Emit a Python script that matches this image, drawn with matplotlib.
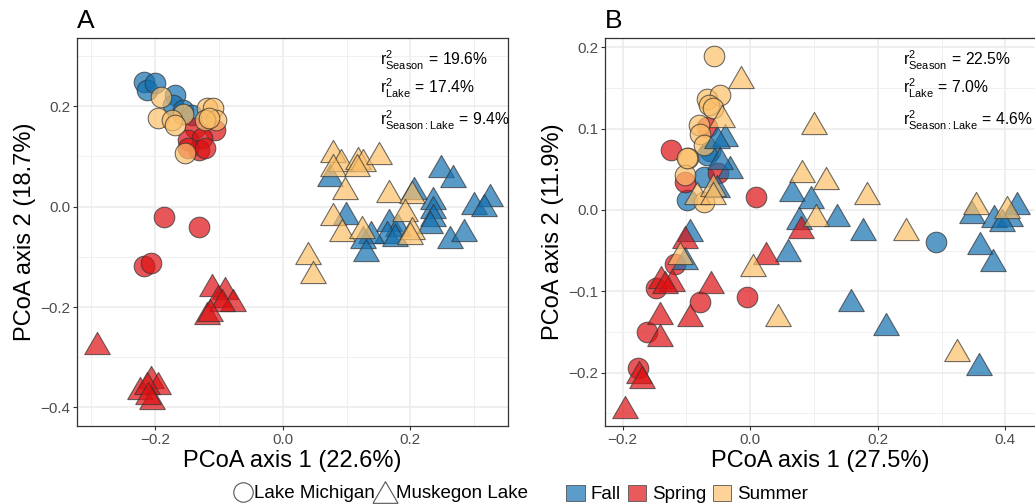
import numpy as np
import matplotlib.pyplot as plt
from matplotlib.lines import Line2D
from matplotlib.patches import Patch
from matplotlib.ticker import MultipleLocator

plt.rcParams['font.family'] = ['Liberation Sans', 'DejaVu Sans']
plt.rcParams['mathtext.fontset'] = 'custom'
plt.rcParams['mathtext.rm'] = 'Liberation Sans'
plt.rcParams['mathtext.it'] = 'Liberation Sans:italic'

seasons = ['Fall', 'Spring', 'Summer']
colors = {'Fall': '#1370b0', 'Spring': '#de1013', 'Summer': '#fbbf69'}
key_colors = {'Fall': '#5b9ccb', 'Spring': '#e85a5b', 'Summer': '#fdd39a'}

# ---- panel A (x, y) ----
a_mich_fall = [(-0.217, 0.249), (-0.213, 0.233), (-0.201, 0.246), (-0.169, 0.223),
               (-0.172, 0.203), (-0.156, 0.193), (-0.143, 0.183)]
a_mich_summer = [(-0.191, 0.219), (-0.156, 0.184), (-0.119, 0.196), (-0.110, 0.196),
                 (-0.104, 0.173), (-0.122, 0.173), (-0.195, 0.176), (-0.174, 0.173),
                 (-0.169, 0.163), (-0.153, 0.106), (-0.116, 0.177)]
a_mich_spring = [(-0.138, 0.156), (-0.106, 0.153), (-0.148, 0.133), (-0.127, 0.136),
                 (-0.132, 0.113), (-0.148, 0.116), (-0.122, 0.117),
                 (-0.186, -0.021), (-0.131, -0.040), (-0.217, -0.118), (-0.207, -0.113)]
a_musk_spring = [(-0.292, -0.271), (-0.111, -0.156), (-0.091, -0.163), (-0.101, -0.179),
                 (-0.078, -0.186), (-0.096, -0.186), (-0.119, -0.212), (-0.114, -0.206),
                 (-0.207, -0.339), (-0.195, -0.352), (-0.224, -0.362), (-0.213, -0.352),
                 (-0.205, -0.382), (-0.211, -0.372)]
a_musk_fall = [(0.074, 0.063), (0.248, 0.080), (0.267, 0.062), (0.206, 0.037),
               (0.235, 0.017), (0.236, 0.000), (0.236, -0.017), (0.231, -0.030),
               (0.299, 0.007), (0.325, 0.023), (0.316, 0.003), (0.262, -0.060),
               (0.284, -0.046), (0.099, -0.013), (0.166, -0.027), (0.181, -0.036),
               (0.163, -0.050), (0.176, -0.056), (0.139, -0.050), (0.126, -0.060),
               (0.130, -0.086)]
a_musk_summer = [(0.078, 0.110), (0.091, 0.093), (0.079, 0.083), (0.118, 0.096),
                 (0.125, 0.093), (0.150, 0.106), (0.116, 0.083), (0.097, 0.038),
                 (0.167, 0.031), (0.202, 0.030), (0.192, -0.007), (0.078, -0.015),
                 (0.093, -0.046), (0.124, -0.040), (0.202, -0.043), (0.200, -0.053),
                 (0.039, -0.092), (0.048, -0.130)]

# ---- panel B (x, y) ----
b_mich_fall = [(-0.063, 0.072), (-0.068, 0.068), (-0.073, 0.041), (-0.099, 0.012),
               (0.292, -0.040)]
b_mich_spring = [(-0.124, 0.074), (-0.068, 0.102), (-0.102, 0.035), (-0.050, 0.045),
                 (0.009, 0.016), (-0.118, -0.066), (-0.147, -0.096), (-0.078, -0.113),
                 (-0.162, -0.150), (-0.175, -0.195), (-0.005, -0.107)]
b_mich_summer = [(-0.056, 0.189), (-0.068, 0.137), (-0.047, 0.141), (-0.064, 0.129),
                 (-0.058, 0.125), (-0.080, 0.105), (-0.078, 0.094), (-0.073, 0.080),
                 (-0.097, 0.064), (-0.102, 0.043), (-0.099, 0.064), (-0.073, 0.010)]
b_musk_fall = [(-0.039, 0.092), (-0.052, 0.090), (-0.031, 0.053), (-0.047, 0.064),
               (-0.052, 0.029), (-0.094, -0.025), (-0.102, -0.059), (0.065, 0.025),
               (0.095, 0.016), (0.076, -0.010), (0.136, -0.006), (0.177, -0.023),
               (0.060, -0.049), (0.158, -0.111), (0.213, -0.140), (0.358, -0.189),
               (0.348, -0.002), (0.382, -0.008), (0.419, 0.008), (0.407, -0.006),
               (0.395, -0.012), (0.361, -0.041), (0.381, -0.061)]
b_musk_spring = [(-0.102, -0.033), (-0.139, -0.082), (-0.123, -0.086), (-0.133, -0.088),
                 (-0.061, -0.088), (-0.094, -0.129), (-0.141, -0.127), (-0.142, -0.154),
                 (-0.174, -0.199), (-0.170, -0.205), (-0.196, -0.242), (0.025, -0.053),
                 (0.080, -0.021)]
b_musk_summer = [(-0.014, 0.164), (-0.044, 0.115), (-0.084, 0.021), (-0.058, 0.031),
                 (-0.058, 0.021), (-0.110, -0.053), (0.005, -0.068), (0.100, 0.107),
                 (0.082, 0.048), (0.119, 0.039), (0.183, 0.021), (0.104, -0.006),
                 (0.244, -0.023), (0.044, -0.129), (0.324, -0.172), (0.354, 0.008),
                 (0.403, 0.004)]

panels = [
    dict(label='A', xlab='PCoA axis 1 (22.6%)', ylab='PCoA axis 2 (18.7%)',
         xlim=(-0.3227, 0.353), ylim=(-0.437, 0.336),
         xt=[-0.2, 0.0, 0.2], yt=[-0.4, -0.2, 0.0, 0.2],
         r2=['19.6', '17.4', '9.4'], r2x=0.703,
         mich={'Fall': a_mich_fall, 'Spring': a_mich_spring, 'Summer': a_mich_summer},
         musk={'Fall': a_musk_fall, 'Spring': a_musk_spring, 'Summer': a_musk_summer},
         minor_x=0.1, minor_y=0.1),
    dict(label='B', xlab='PCoA axis 1 (27.5%)', ylab='PCoA axis 2 (11.9%)',
         xlim=(-0.2275, 0.448), ylim=(-0.2657, 0.2115),
         xt=[-0.2, 0.0, 0.2, 0.4], yt=[-0.2, -0.1, 0.0, 0.1, 0.2],
         r2=['22.5', '7.0', '4.6'], r2x=0.692,
         mich={'Fall': b_mich_fall, 'Spring': b_mich_spring, 'Summer': b_mich_summer},
         musk={'Fall': b_musk_fall, 'Spring': b_musk_spring, 'Summer': b_musk_summer},
         minor_x=0.1, minor_y=0.05),
]

tri = [(-1, -0.866), (1, -0.866), (0, 0.866), (-1, -0.866)]

fig = plt.figure(figsize=(10.35, 5.04), dpi=100)
lefts = [0.0744, 0.5845]

for p, left in zip(panels, lefts):
    ax = fig.add_axes([left, 0.1548, 0.4164, 0.7698])
    ax.set_xlim(p['xlim'])
    ax.set_ylim(p['ylim'])
    ax.set_xticks(p['xt'])
    ax.set_yticks(p['yt'])
    ax.xaxis.set_minor_locator(MultipleLocator(p['minor_x']))
    ax.yaxis.set_minor_locator(MultipleLocator(p['minor_y']))
    ax.grid(which='major', color='#ebebeb', linewidth=1.1, zorder=0)
    ax.grid(which='minor', color='#f0f0f0', linewidth=0.7, zorder=0)
    ax.set_axisbelow(True)
    for s in ax.spines.values():
        s.set_color('#333333')
        s.set_linewidth(0.9)
    ax.tick_params(which='major', length=3, width=0.8, color='#333333',
                   labelsize=11, labelcolor='#4d4d4d', pad=2)
    ax.tick_params(which='minor', length=0)
    ax.xaxis.set_major_formatter(plt.FuncFormatter(lambda v, _: f'{v:.1f}'.replace('-', '\u2212')))
    ax.yaxis.set_major_formatter(plt.FuncFormatter(lambda v, _: f'{v:.1f}'.replace('-', '\u2212')))

    for lake, marker, size in [('mich', 'o', 220), ('musk', tri, 340)]:
        for s in seasons:
            pts = np.array(p[lake][s])
            ax.scatter(pts[:, 0], pts[:, 1], s=size, marker=marker,
                       facecolor=colors[s], alpha=0.7, edgecolor='#333333',
                       linewidth=0.8, zorder=3)

    ax.set_xlabel(p['xlab'], fontsize=17, labelpad=2)
    ax.set_ylabel(p['ylab'], fontsize=17, labelpad=3)
    ax.text(0.0, 1.012, p['label'], transform=ax.transAxes, fontsize=19,
            ha='left', va='bottom')
    names = ['Season', 'Lake', 'Season{:}Lake']
    for i, (nm, val) in enumerate(zip(names, p['r2'])):
        ax.text(p['r2x'], [0.943, 0.869, 0.788][i],
                r'$\mathrm{r}^{2}_{\mathrm{' + nm + r'}}\,=\,$' + val + '%',
                transform=ax.transAxes, fontsize=11.3, ha='left', va='center',
                zorder=5)

lake_handles = [
    Line2D([], [], marker='o', linestyle='none', markersize=14,
           markerfacecolor='white', markeredgecolor='#555555', markeredgewidth=0.8,
           label='Lake Michigan'),
    Line2D([], [], marker=tri, linestyle='none', markersize=18,
           markerfacecolor='white', markeredgecolor='#555555', markeredgewidth=0.8,
           label='Muskegon Lake'),
]
season_handles = [Patch(facecolor=key_colors[s], edgecolor='#555555', linewidth=0.6,
                        label=s) for s in seasons]

leg1 = fig.legend(handles=lake_handles, loc='center', bbox_to_anchor=(0.368, 0.02),
                  ncol=2, frameon=False, fontsize=13.5, handlelength=1.0,
                  handletextpad=0.1, columnspacing=0.0, borderpad=0)
leg2 = fig.legend(handles=season_handles, loc='center', bbox_to_anchor=(0.664, 0.02),
                  ncol=3, frameon=False, fontsize=13.5, handlelength=1.0,
                  handleheight=1.0, handletextpad=0.3, columnspacing=0.35, borderpad=0)

fig.savefig('out.png', dpi=100)
